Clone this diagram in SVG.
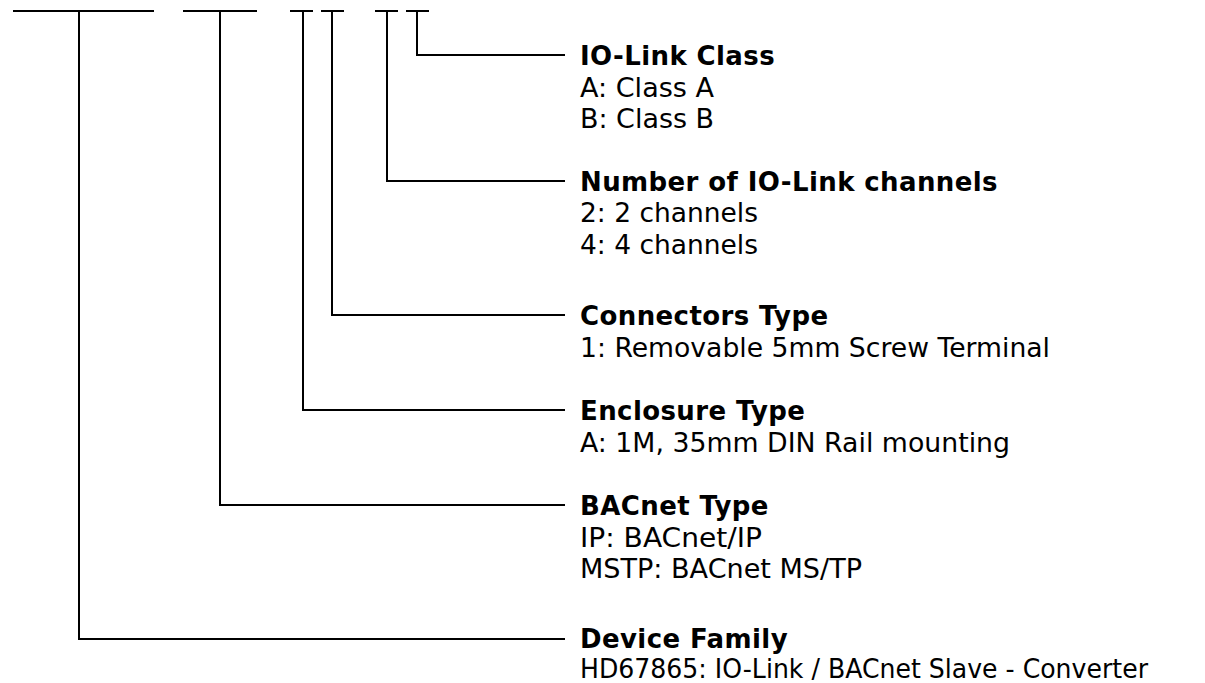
<svg xmlns="http://www.w3.org/2000/svg" width="1205" height="683" viewBox="0 0 1205 683">
<style>
.ln{fill:none;stroke:#000;stroke-width:2;stroke-linecap:square;stroke-linejoin:miter}
.t{font-family:"DejaVu Sans",Verdana,sans-serif;font-size:26px;fill:#000}
.b{font-weight:bold;letter-spacing:0.4px}
</style>
<rect width="1205" height="683" fill="#fff"/>
<g id="connectors">
<line class="ln" x1="14" y1="11" x2="153" y2="11"/>
<line class="ln" x1="184" y1="11" x2="256" y2="11"/>
<line class="ln" x1="291" y1="11" x2="312" y2="11"/>
<line class="ln" x1="322" y1="11" x2="343" y2="11"/>
<line class="ln" x1="376" y1="11" x2="397" y2="11"/>
<line class="ln" x1="407" y1="11" x2="428" y2="11"/>
<polyline class="ln" points="417,11 417,55 564,55"/>
<polyline class="ln" points="387,11 387,181 564,181"/>
<polyline class="ln" points="332,11 332,315 564,315"/>
<polyline class="ln" points="303,11 303,410 564,410"/>
<polyline class="ln" points="220,11 220,505 564,505"/>
<polyline class="ln" points="79,11 79,639 564,639"/>
</g>
<g id="io-link-class">
<text class="t b" x="580" y="65">IO-Link Class</text>
<text class="t" x="580" y="97" textLength="134" lengthAdjust="spacingAndGlyphs">A: Class A</text>
<text class="t" x="580" y="128" textLength="134" lengthAdjust="spacingAndGlyphs">B: Class B</text>
</g>
<g id="channels">
<text class="t b" x="580" y="191">Number of IO-Link channels</text>
<text class="t" x="580" y="222" textLength="178" lengthAdjust="spacingAndGlyphs">2: 2 channels</text>
<text class="t" x="580" y="254" textLength="178" lengthAdjust="spacingAndGlyphs">4: 4 channels</text>
</g>
<g id="connectors-type">
<text class="t b" x="580" y="325">Connectors Type</text>
<text class="t" x="580" y="357" textLength="470" lengthAdjust="spacingAndGlyphs">1: Removable 5mm Screw Terminal</text>
</g>
<g id="enclosure-type">
<text class="t b" x="580" y="420">Enclosure Type</text>
<text class="t" x="580" y="452" textLength="430" lengthAdjust="spacingAndGlyphs">A: 1M, 35mm DIN Rail mounting</text>
</g>
<g id="bacnet-type">
<text class="t b" x="580" y="515">BACnet Type</text>
<text class="t" x="580" y="547" textLength="182" lengthAdjust="spacingAndGlyphs">IP: BACnet/IP</text>
<text class="t" x="580" y="578" textLength="282" lengthAdjust="spacingAndGlyphs">MSTP: BACnet MS/TP</text>
</g>
<g id="device-family">
<text class="t b" x="580" y="648">Device Family</text>
<text class="t" x="580" y="678" textLength="568" lengthAdjust="spacingAndGlyphs">HD67865: IO-Link / BACnet Slave - Converter</text>
</g>
</svg>
